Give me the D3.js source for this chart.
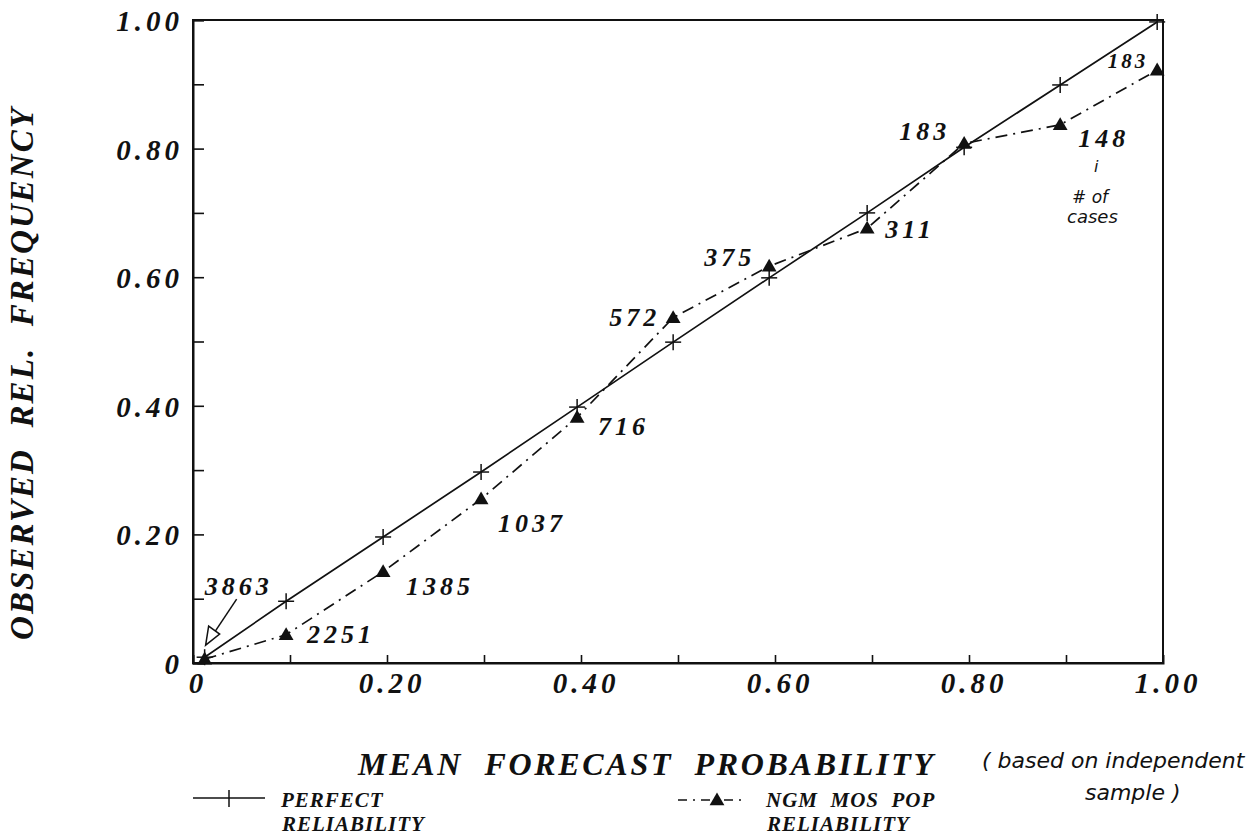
<!DOCTYPE html>
<html>
<head>
<meta charset="utf-8">
<script src="https://cdn.jsdelivr.net/npm/d3@7"></script>
<style>
  html, body { margin: 0; padding: 0; background: #fff; }
  svg { display: block; }
</style>
</head>
<body>
<svg id="chart" width="1257" height="836"></svg>
<script>
// ---- data ----
const forecastProb   = [0.012, 0.096, 0.196, 0.297, 0.396, 0.495, 0.594, 0.695, 0.795, 0.894, 0.994];
const perfectRel     = [0.009, 0.096, 0.196, 0.297, 0.398, 0.499, 0.599, 0.700, 0.802, 0.899, 0.997];
const ngmRel         = [0.006, 0.044, 0.142, 0.255, 0.382, 0.537, 0.617, 0.676, 0.808, 0.837, 0.922];
const caseCounts     = ["3863", "2251", "1385", "1037", "716", "572", "375", "311", "183", "148", "183"];
const tickValues     = [0, 0.1, 0.2, 0.3, 0.4, 0.5, 0.6, 0.7, 0.8, 0.9, 1.0];
const tickLabels     = ["0", "", "0.20", "", "0.40", "", "0.60", "", "0.80", "", "1.00"];
const xAxisTitle     = "MEAN  FORECAST  PROBABILITY";
const yAxisTitle     = "OBSERVED  REL.  FREQUENCY";
const legendLabels   = [["PERFECT", "RELIABILITY"], ["NGM  MOS  POP", "RELIABILITY"]];

// label placement (offsets from the point, pixels) and anchors
const labelOffsets = [[0,-64,"start"],[21,8,"start"],[23,23,"start"],[17,33,"start"],[21,18,"start"],
                      [-13,8,"end"],[-14,0,"end"],[18,10,"start"],[-14,-3,"end"],[18,22,"start"],[-9,-2,"end"]];

const svg = d3.select("#chart");
svg.append("rect").attr("width",1257).attr("height",836).attr("fill","#fff");

const x = d3.scaleLinear().domain([0,1]).range([193,1163]);
const y = d3.scaleLinear().domain([0,1]).range([663,20]);

const serif = "'Liberation Serif', 'Times New Roman', serif";
const ink = "#111";

// frame
svg.append("rect")
  .attr("x", x(0)).attr("y", y(1))
  .attr("width", x(1)-x(0)).attr("height", y(0)-y(1))
  .attr("fill","none").attr("stroke",ink).attr("stroke-width",2);

// axes (inward ticks)
const yAxis = d3.axisLeft(y).tickValues(tickValues).tickSize(-11).tickFormat("");
const gy = svg.append("g").attr("transform",`translate(${x(0)},0)`).call(yAxis);
const xAxis = d3.axisBottom(x).tickValues(tickValues).tickSize(-8).tickFormat("");
const gx = svg.append("g").attr("transform",`translate(0,${y(0)})`).call(xAxis);
[gy,gx].forEach(g => {
  g.select(".domain").attr("stroke",ink).attr("stroke-width",2);
  g.selectAll(".tick line").attr("stroke",ink).attr("stroke-width",1.6);
});
gx.selectAll(".tick").filter(d => d === 0 || d === 1).remove();

// tick labels
const labelled = tickValues.map((v,i)=>({v, t: tickLabels[i]})).filter(d=>d.t);
svg.append("g").selectAll("text")
  .data(labelled)
  .join("text")
  .attr("x", 183).attr("y", d => y(d.v) + 11)
  .attr("text-anchor","end")
  .attr("font-family", serif).attr("font-style","italic").attr("font-weight","bold")
  .attr("font-size", 29).attr("letter-spacing", 4).attr("fill", ink)
  .text(d => d.t);

svg.append("g").selectAll("text")
  .data(labelled)
  .join("text")
  .attr("x", d => x(d.v) + 5).attr("y", 693)
  .attr("text-anchor","middle")
  .attr("font-family", serif).attr("font-style","italic").attr("font-weight","bold")
  .attr("font-size", 29).attr("letter-spacing", 4).attr("fill", ink)
  .text(d => d.t);

// lines
const pts = forecastProb.map((f,i)=>({f, p: perfectRel[i], n: ngmRel[i], c: caseCounts[i], o: labelOffsets[i]}));

svg.append("path").datum(pts)
  .attr("fill","none").attr("stroke",ink).attr("stroke-width",1.7)
  .attr("d", d3.line().x(d=>x(d.f)).y(d=>y(d.p)));

svg.append("path").datum(pts)
  .attr("fill","none").attr("stroke",ink).attr("stroke-width",1.7)
  .attr("stroke-dasharray","12,6,2,6")
  .attr("d", d3.line().x(d=>x(d.f)).y(d=>y(d.n)));

// crosses
const crossG = svg.append("g").attr("stroke",ink).attr("stroke-width",1.5);
crossG.selectAll("g").data(pts).join("g")
  .attr("transform", d=>`translate(${x(d.f)},${y(d.p)})`)
  .each(function(){
    const g = d3.select(this);
    g.append("line").attr("x1",-8).attr("x2",8);
    g.append("line").attr("y1",-8).attr("y2",8);
  });

// triangles
const tri = d3.symbol().type(d3.symbolTriangle).size(95);
svg.append("g").selectAll("path").data(pts).join("path")
  .attr("transform", d=>`translate(${x(d.f)},${y(d.n)+1})`)
  .attr("d", tri).attr("fill", ink);

// case count labels
svg.append("g").selectAll("text").data(pts).join("text")
  .attr("x", d => x(d.f) + d.o[0]).attr("y", d => y(d.n) + d.o[1])
  .attr("text-anchor", d => d.o[2])
  .attr("font-family", serif).attr("font-style","italic").attr("font-weight","bold")
  .attr("font-size", (d,i) => i === pts.length-1 ? 21 : 26)
  .attr("letter-spacing", (d,i) => i === pts.length-1 ? 3 : 4)
  .attr("fill", ink)
  .text(d => d.c);

// arrow from "3863" to the first point (open head)
const p0 = pts[0];
const tipX = x(p0.f) + 1, tipY = y(p0.n) - 14;
svg.append("line")
  .attr("x1", tipX + 31).attr("y1", tipY - 46)
  .attr("x2", tipX + 9).attr("y2", tipY - 13)
  .attr("stroke", ink).attr("stroke-width", 1.5);
svg.append("path")
  .attr("d", `M${tipX},${tipY} L${tipX+3},${tipY-19} L${tipX+14},${tipY-11} Z`)
  .attr("fill","#fff").attr("stroke",ink).attr("stroke-width",1.5);

// axis titles
svg.append("text")
  .attr("x", 358).attr("y", 775)
  .attr("font-family", serif).attr("font-style","italic").attr("font-weight","bold")
  .attr("font-size", 32).attr("fill", ink)
  .attr("textLength", 575).attr("lengthAdjust","spacing")
  .style("white-space","pre")
  .text(xAxisTitle);

svg.append("text")
  .attr("transform", "translate(33,640) rotate(-90)")
  .attr("font-family", serif).attr("font-style","italic").attr("font-weight","bold")
  .attr("font-size", 33).attr("fill", ink)
  .attr("textLength", 532).attr("lengthAdjust","spacing")
  .style("white-space","pre")
  .text(yAxisTitle);

// legend
const lg = svg.append("g");
lg.append("line").attr("x1",193).attr("x2",265).attr("y1",798).attr("y2",798)
  .attr("stroke",ink).attr("stroke-width",1.7);
lg.append("line").attr("x1",229).attr("x2",229).attr("y1",790).attr("y2",807)
  .attr("stroke",ink).attr("stroke-width",1.5);
lg.append("line").attr("x1",678).attr("x2",743).attr("y1",800).attr("y2",800)
  .attr("stroke",ink).attr("stroke-width",1.7).attr("stroke-dasharray","9,6,2,6");
lg.append("path").attr("transform","translate(717,801)").attr("d", tri).attr("fill", ink);

const legendPos = [[281, 807], [766, 807]];
legendLabels.forEach((lines, k) => {
  lines.forEach((t, j) => {
    lg.append("text")
      .attr("x", legendPos[k][0] + j).attr("y", legendPos[k][1] + j*24)
      .attr("font-family", serif).attr("font-style","italic").attr("font-weight","bold")
      .attr("font-size", 21).attr("letter-spacing", 1).attr("fill", ink)
      .style("white-space","pre")
      .text(t);
  });
});

// handwritten notes
const hand = "'DejaVu Sans', sans-serif";
const notes = [
  {t: "( based on independent", x: 982, y: 768, s: 22},
  {t: "sample )", x: 1085, y: 800, s: 22},
  {t: "i", x: 1094, y: 172, s: 16},
  {t: "# of", x: 1072, y: 203, s: 17},
  {t: "cases", x: 1067, y: 223, s: 18}
];
svg.append("g").selectAll("text").data(notes).join("text")
  .attr("x", d=>d.x).attr("y", d=>d.y)
  .attr("font-family", hand).attr("font-weight", 300).attr("font-style","italic")
  .attr("font-size", d=>d.s).attr("fill", ink)
  .style("white-space","pre")
  .text(d=>d.t);
</script>
</body>
</html>
